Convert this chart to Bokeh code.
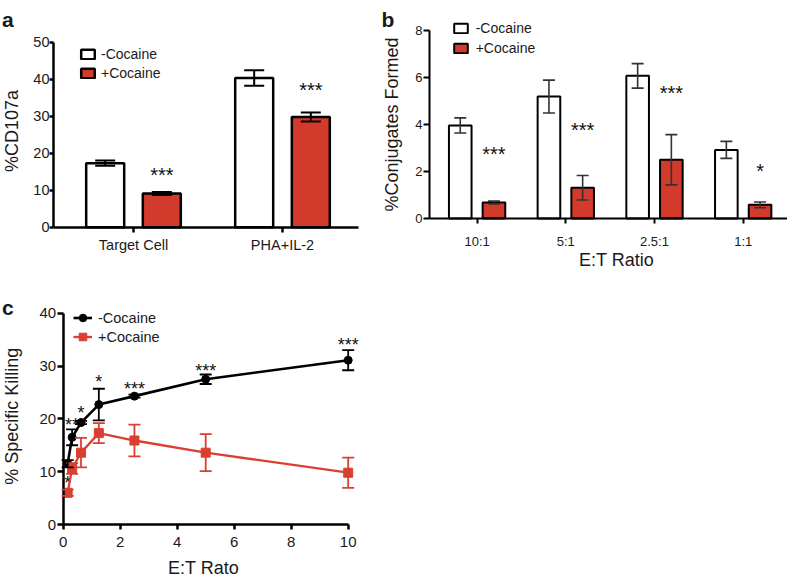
from bokeh.plotting import figure
from bokeh.models import (ColumnDataSource, Range1d, FixedTicker, Whisker, TeeHead,
                          Legend, LegendItem, Label)
from bokeh.layouts import column, row
from bokeh.embed import file_html
from bokeh.resources import INLINE
from bokeh.core.properties import value
import math

# ---------------- data ----------------
# Panel a
a_groups = ["Target Cell", "PHA+IL-2"]
a_minus = [17.3, 40.3]
a_minus_err = [0.7, 2.1]
a_plus = [9.1, 29.8]
a_plus_err = [0.4, 1.2]
a_sig = ["***", "***"]
a_sig_y = [15.1, 38.0]

# Panel b
b_ratios = ["10:1", "5:1", "2.5:1", "1:1"]
b_minus = [3.96, 5.19, 6.07, 2.92]
b_minus_err = [0.32, 0.70, 0.52, 0.36]
b_plus = [0.68, 1.31, 2.50, 0.58]
b_plus_err = [0.06, 0.52, 1.07, 0.12]
b_sig = ["***", "***", "***", "*"]
b_sig_y = [2.90, 3.91, 5.48, 2.18]

# Panel c
c_ratio = [0.156, 0.3125, 0.625, 1.25, 2.5, 5, 10]
c_minus = [11.5, 16.5, 19.3, 22.7, 24.3, 27.5, 31.1]
c_minus_err = [0.7, 1.5, 0.3, 3.0, 0.3, 0.9, 1.9]
c_plus = [6.0, 10.6, 13.6, 17.3, 15.9, 13.6, 9.8]
c_plus_err = [0.6, 1.0, 2.8, 1.9, 3.0, 3.5, 2.85]
c_sig = ["*", "**", "*", "*", "***", "***", "***"]
c_sig_y = [8.5, 19.4, 21.7, 27.6, 26.2, 29.7, 34.6]

# ---------------- styling ----------------
FONT = "Liberation Sans"
RED = "#D23A2B"
RED_C = "#DA3F31"
TXT = "#1a1a1a"
BAR_W = 0.255
DODGE = 0.19


class Spec:
    """Page geometry of one panel: maps page pixels to data units."""
    def __init__(self, ox, oy, w, h, xmap, ymap):
        (xd1, xp1), (xd2, xp2) = xmap
        self.kx = (xd2 - xd1) / (xp2 - xp1)
        self.x0 = xd1 - xp1 * self.kx
        (yd1, yp1), (yd2, yp2) = ymap
        self.ky = (yd2 - yd1) / (yp2 - yp1)
        self.y0 = yd1 - yp1 * self.ky
        self.ox, self.oy, self.w, self.h = ox, oy, w, h
        self.xr = (self.dx(ox), self.dx(ox + w))
        self.yr = (self.dy(oy + h), self.dy(oy))

    def dx(self, px):
        return self.x0 + px * self.kx

    def dy(self, py):
        return self.y0 + py * self.ky


def make_fig(s):
    p = figure(width=s.w, height=s.h, output_backend="svg", toolbar_location=None,
               x_range=Range1d(*s.xr), y_range=Range1d(*s.yr), title_location=None,
               min_border=0, min_border_left=0, min_border_right=0,
               min_border_top=0, min_border_bottom=0)
    p.xgrid.visible = False
    p.ygrid.visible = False
    p.outline_line_color = None
    p.background_fill_color = "white"
    p.border_fill_color = "white"
    return p


def style_axis(ax, lw, fs, tick_out, standoff):
    ax.axis_line_width = lw
    ax.axis_line_color = "black"
    ax.major_tick_line_width = lw
    ax.major_tick_line_color = "black"
    ax.major_tick_in = 0
    ax.major_tick_out = tick_out
    ax.minor_tick_line_color = None
    ax.major_label_text_font = FONT
    ax.major_label_text_font_size = fs
    ax.major_label_text_color = TXT
    ax.major_label_standoff = standoff


def add_text(p, s, px, py, text, size, angle=0.0, bold=False, align="center", baseline="middle"):
    p.add_layout(Label(x=s.dx(px), y=s.dy(py), x_units="data", y_units="data", text=text,
                       angle=angle, text_align=align, text_baseline=baseline, text_font=FONT,
                       text_font_size=size, text_font_style="bold" if bold else "normal",
                       text_color=TXT))


def bar_panel(s, cats, minus, minus_err, plus, plus_err, sig, sig_y, yticks, ytop,
              axis_px, lw, fs, cap, err_color, err_lw, leg_loc, leg_h, leg_stand,
              xstand, ystand, xtick_out, ytick_out):
    p = make_fig(s)
    pos = [i + 1 for i in range(len(cats))]
    src_m = ColumnDataSource(dict(x=[q - DODGE for q in pos], top=minus,
                                  up=[v + e for v, e in zip(minus, minus_err)],
                                  lo=[v - e for v, e in zip(minus, minus_err)]))
    src_p = ColumnDataSource(dict(x=[q + DODGE for q in pos], top=plus,
                                  up=[v + e for v, e in zip(plus, plus_err)],
                                  lo=[v - e for v, e in zip(plus, plus_err)]))
    r_m = p.vbar(x="x", top="top", bottom=0, width=BAR_W, source=src_m,
                 fill_color="white", line_color="black", line_width=lw)
    r_p = p.vbar(x="x", top="top", bottom=0, width=BAR_W, source=src_p,
                 fill_color=RED, line_color="black", line_width=lw)
    for src in (src_m, src_p):
        p.add_layout(Whisker(source=src, base="x", upper="up", lower="lo", level="annotation",
                             line_color=err_color, line_width=err_lw,
                             upper_head=TeeHead(size=cap, line_color=err_color, line_width=err_lw),
                             lower_head=TeeHead(size=cap, line_color=err_color, line_width=err_lw)))
    sig_src = ColumnDataSource(dict(x=[q + DODGE for q in pos], y=sig_y, t=sig))
    p.text(x="x", y="y", text="t", source=sig_src, text_align="center",
           text_baseline="alphabetic", text_font=value(FONT), text_font_size="20px",
           y_offset=3.4, text_color="#111111")

    x_left, x_right = s.dx(axis_px[0]), s.dx(axis_px[1])
    style_axis(p.xaxis[0], lw, fs, xtick_out, xstand)
    style_axis(p.yaxis[0], lw, fs, ytick_out, ystand)
    p.xaxis.fixed_location = 0
    p.xaxis.bounds = (x_left, x_right)
    p.xaxis.ticker = FixedTicker(ticks=pos)
    p.xaxis.major_label_overrides = {q: c for q, c in zip(pos, cats)}
    p.yaxis.fixed_location = x_left
    p.yaxis.bounds = (0, ytop)
    p.yaxis.ticker = FixedTicker(ticks=yticks)

    leg = Legend(items=[LegendItem(label="-Cocaine", renderers=[r_m]),
                        LegendItem(label="+Cocaine", renderers=[r_p])],
                 location=leg_loc, orientation="vertical",
                 glyph_width=17, glyph_height=12, label_height=leg_h, label_standoff=leg_stand,
                 spacing=0, padding=0, margin=0, border_line_color=None,
                 background_fill_alpha=0, label_text_font=FONT,
                 label_text_font_size="14px", label_text_color=TXT)
    p.add_layout(leg)
    return p


# ---------------- panel a ----------------
sa = Spec(0, 0, 380, 280, ((1, 133.0), (2, 282.0)), ((0, 226.7), (50, 41.7)))
pa = bar_panel(sa, a_groups, a_minus, a_minus_err, a_plus, a_plus_err, a_sig, a_sig_y,
               [0, 10, 20, 30, 40, 50], 50, (53, 358), 2.5, "14.5px", 20, "black", 2.0,
               (79, 280 - 82.3), 19, 5, 5, 0, 5, 4)
add_text(pa, sa, 11, 130.5, "%CD107a", "18px", angle=math.pi / 2)
add_text(pa, sa, 1.5, 18.5, "a", "21px", bold=True, align="left", baseline="alphabetic")

# ---------------- panel b ----------------
sb = Spec(380, 0, 407, 280, ((1, 476.6), (4, 742.7)), ((0, 218.0), (8, 30.0)))
pb = bar_panel(sb, b_ratios, b_minus, b_minus_err, b_plus, b_plus_err, b_sig, b_sig_y,
               [0, 2, 4, 6, 8], 8, (429, 787), 2.0, "13px", 12, "#333333", 1.6,
               (451.7 - 380, 280 - 57.5), 20, 7, 10, 1, 5, 6)
add_text(pb, sb, 391, 124, "%Conjugates Formed", "18px", angle=math.pi / 2)
add_text(pb, sb, 616, 259, "E:T Ratio", "18px")
add_text(pb, sb, 381, 18.5, "b", "21px", bold=True, align="left", baseline="alphabetic")

# ---------------- panel c ----------------
sc = Spec(0, 280, 400, 300, ((0, 62.7), (10, 347.7)), ((0, 524.0), (40, 312.7)))
pc = make_fig(sc)
sig_c = ColumnDataSource(dict(x=c_ratio, y=c_sig_y, t=c_sig))
pc.text(x="x", y="y", text="t", source=sig_c, text_align="center",
        text_baseline="alphabetic", text_font=value(FONT), text_font_size="18px",
        y_offset=3.0, text_color="#111111")

src_cm = ColumnDataSource(dict(x=c_ratio, y=c_minus,
                               up=[v + e for v, e in zip(c_minus, c_minus_err)],
                               lo=[v - e for v, e in zip(c_minus, c_minus_err)]))
src_cp = ColumnDataSource(dict(x=c_ratio, y=c_plus,
                               up=[v + e for v, e in zip(c_plus, c_plus_err)],
                               lo=[v - e for v, e in zip(c_plus, c_plus_err)]))
for src, col in ((src_cp, RED_C), (src_cm, "black")):
    pc.add_layout(Whisker(source=src, base="x", upper="up", lower="lo", level="annotation",
                          line_color=col, line_width=1.8,
                          upper_head=TeeHead(size=12, line_color=col, line_width=1.8),
                          lower_head=TeeHead(size=12, line_color=col, line_width=1.8)))
l_m = pc.line("x", "y", source=src_cm, line_color="black", line_width=2.6)
m_m = pc.scatter("x", "y", source=src_cm, marker="circle", size=8,
                 fill_color="black", line_color="black")
l_p = pc.line("x", "y", source=src_cp, line_color=RED_C, line_width=2.3)
m_p = pc.scatter("x", "y", source=src_cp, marker="square", size=9,
                 fill_color=RED_C, line_color=RED_C)

style_axis(pc.xaxis[0], 2.5, "15px", 5, 7)
style_axis(pc.yaxis[0], 2.5, "15px", 6, 1)
pc.xaxis.fixed_location = 0
pc.xaxis.bounds = (0, 10)
pc.xaxis.ticker = FixedTicker(ticks=[0, 2, 4, 6, 8, 10])
pc.yaxis.fixed_location = 0
pc.yaxis.bounds = (0, 40)
pc.yaxis.ticker = FixedTicker(ticks=[0, 10, 20, 30, 40])

leg_c = Legend(items=[LegendItem(label="-Cocaine", renderers=[l_m, m_m]),
                      LegendItem(label="+Cocaine", renderers=[l_p, m_p])],
               location=(73, 580 - 346.2), orientation="vertical",
               glyph_width=19, glyph_height=19, label_height=19, label_standoff=6,
               spacing=0, padding=0, margin=0, border_line_color=None,
               background_fill_alpha=0, label_text_font=FONT,
               label_text_font_size="14.5px", label_text_color=TXT)
pc.add_layout(leg_c)
add_text(pc, sc, 11.7, 415.7, "% Specific Killing", "18px", angle=math.pi / 2)
add_text(pc, sc, 203, 567, "E:T Rato", "18px")
add_text(pc, sc, 1.5, 306.8, "c", "21px", bold=True, align="left", baseline="alphabetic")

layout = column(row(pa, pb), pc)
open("out.html", "w").write(file_html(layout, INLINE))
